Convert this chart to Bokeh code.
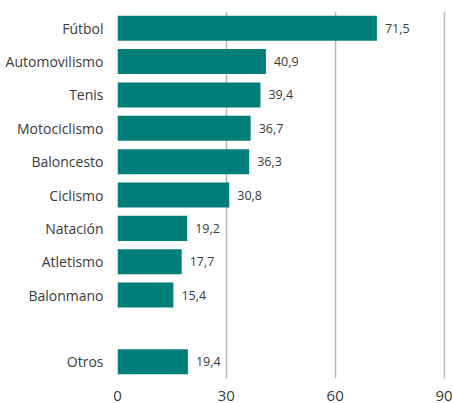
from bokeh.plotting import figure
from bokeh.models import ColumnDataSource, FactorRange, Range1d, FixedTicker, LabelSet
from bokeh.core.properties import value
from bokeh.embed import file_html
from bokeh.resources import INLINE

categories = ["Fútbol", "Automovilismo", "Tenis", "Motociclismo", "Baloncesto",
              "Ciclismo", "Natación", "Atletismo", "Balonmano", "Otros"]
values = [71.5, 40.9, 39.4, 36.7, 36.3, 30.8, 19.2, 17.7, 15.4, 19.4]
x_ticks = [0, 30, 60, 90]

labels = [f"{v:.1f}".replace(".", ",") for v in values]
gap = " "
factors = categories[:-1] + [gap] + categories[-1:]

src = ColumnDataSource(dict(cat=categories, val=values, lab=labels))

FONT = "Open Sans"
p = figure(width=453, height=403, output_backend="svg", toolbar_location=None,
           y_range=FactorRange(*reversed(factors), range_padding=0.0),
           x_range=Range1d(0, 90.4),
           min_border_left=117, min_border_right=8, min_border_top=11, min_border_bottom=24)
p.outline_line_color = None
p.background_fill_color = "white"

p.hbar(y="cat", right="val", left=0, height=0.75, source=src,
       fill_color="#007f7a", line_color=None)

p.add_layout(LabelSet(x="val", y="cat", text="lab", source=src, x_offset=8,
                      text_baseline="middle", text_font_size="12.5px",
                      text_font=value(FONT), text_color="#3a3a3a"))

p.xaxis.ticker = FixedTicker(ticks=x_ticks)
p.xaxis.axis_line_color = None
p.xaxis.major_tick_line_color = None
p.xaxis.minor_tick_line_color = None
p.xaxis.major_label_standoff = 6
p.xaxis.major_label_text_font = FONT
p.xaxis.major_label_text_font_size = "15px"
p.xaxis.major_label_text_color = "#3a3a3a"

p.yaxis.axis_line_color = None
p.yaxis.major_tick_line_color = None
p.yaxis.major_label_standoff = 8
p.yaxis.major_label_text_font = FONT
p.yaxis.major_label_text_font_size = "14px"
p.yaxis.major_label_text_color = "#3a3a3a"

p.ygrid.grid_line_color = None
p.xgrid.grid_line_color = "#b8b8b8"
p.xgrid.grid_line_width = 1.5

open("out.html", "w").write(file_html(p, INLINE))
